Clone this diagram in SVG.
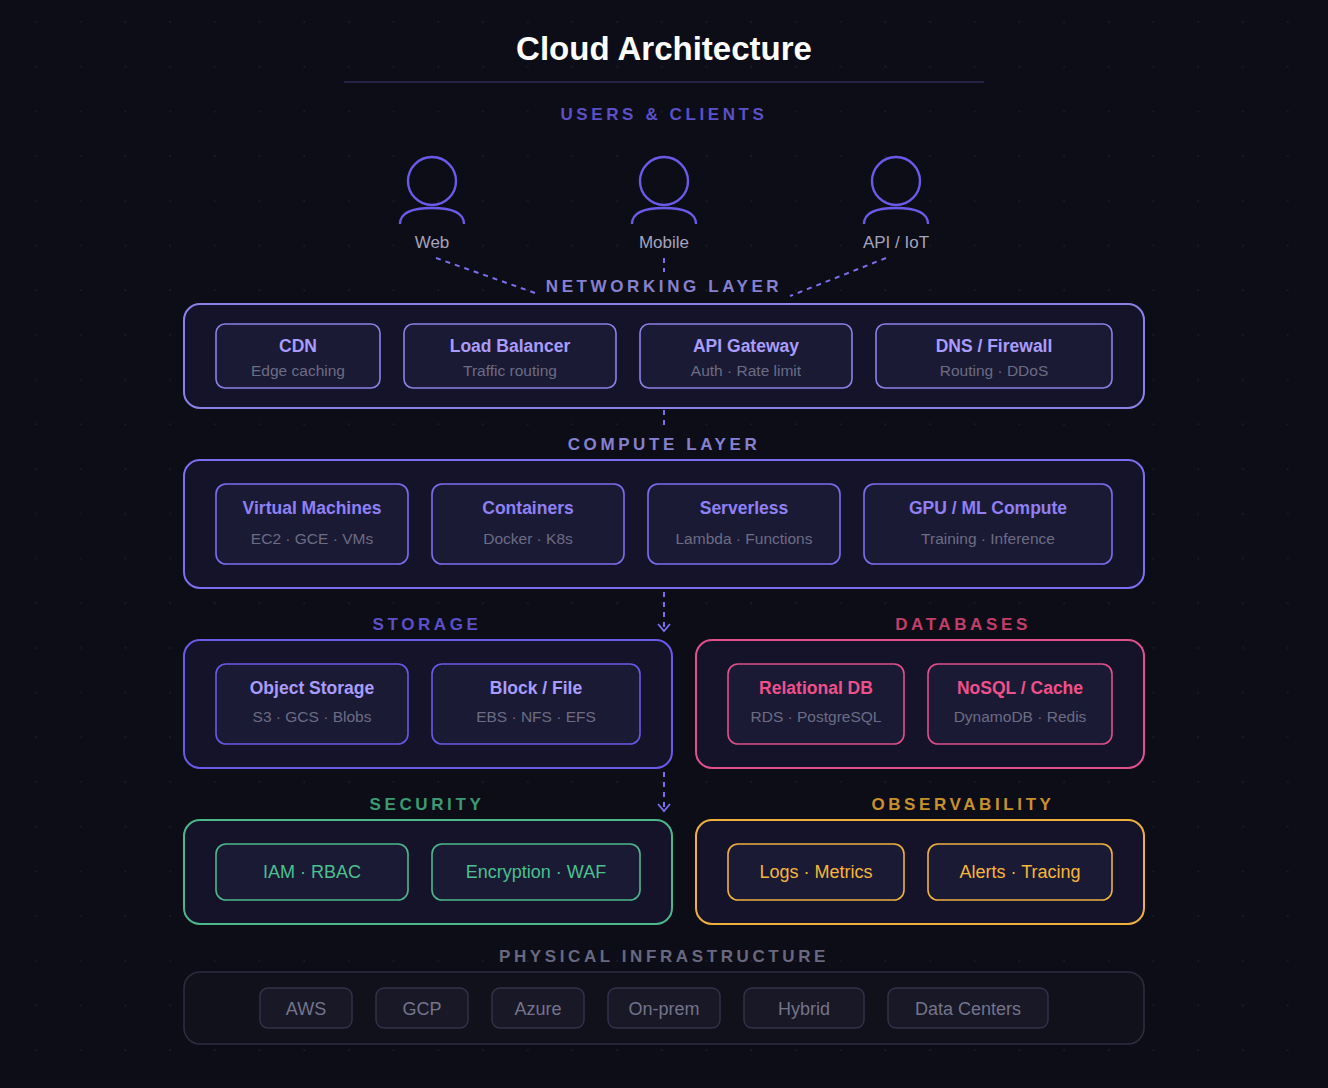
<svg xmlns="http://www.w3.org/2000/svg" width="1328" height="1088" viewBox="0 0 1328 1088">
<defs>
<pattern id="dots" x="0" y="0" width="44.7" height="44.7" patternUnits="userSpaceOnUse"><circle cx="36" cy="22" r="1" fill="#1c1c2c"/></pattern>
<style>
text{font-family:"Liberation Sans",Arial,sans-serif;text-anchor:middle}
.sec{font-size:17px;font-weight:bold;letter-spacing:3.6px}
.box{fill:#14132a;stroke-width:2}
.in{fill:#1a1a34;stroke-width:1.6}
.t{font-size:17.5px;font-weight:bold}
.s{font-size:15.5px;fill:#6c6c84}
.conn{stroke:#7b6ff0;stroke-width:2;stroke-dasharray:5 5;fill:none}
.head{stroke:#7b6ff0;stroke-width:1.8;fill:none}
.u circle,.u path{fill:none;stroke:#6a5ae8;stroke-width:2.4}
.ul{font-size:17px;fill:#a4a4bc}
.p{fill:#181826;stroke:#32324a;stroke-width:1.4}
.pt{font-size:18px;fill:#74748c}
</style>
</defs>
<rect width="1328" height="1088" fill="#0d0d17"/>
<rect width="1328" height="1088" fill="url(#dots)"/>
<text x="664" y="60" font-size="33" font-weight="bold" fill="#ffffff">Cloud Architecture</text>
<line x1="344" y1="82" x2="984" y2="82" stroke="#2c2a58" stroke-width="1.5"/>
<text x="664" y="120" class="sec" fill="#5b50c8">USERS &amp; CLIENTS</text>

<g id="user-web" class="u"><circle cx="432" cy="181" r="24"/><path d="M400,224 Q400,208 432,208 Q464,208 464,224"/><text x="432" y="248" class="ul">Web</text></g>
<g id="user-mobile" class="u"><circle cx="664" cy="181" r="24"/><path d="M632,224 Q632,208 664,208 Q696,208 696,224"/><text x="664" y="248" class="ul">Mobile</text></g>
<g id="user-api" class="u"><circle cx="896" cy="181" r="24"/><path d="M864,224 Q864,208 896,208 Q928,208 928,224"/><text x="896" y="248" class="ul">API / IoT</text></g>

<g id="connectors">
<path class="conn" d="M436,258 L538,294"/>
<path class="conn" d="M664,258 L664,272"/>
<path class="conn" d="M886,258 L790,296"/>
<path class="conn" d="M664,410 L664,428"/>
<path class="conn" d="M664,592 L664,628"/>
<path class="head" d="M658,624 L664,631 L670,624"/>
<path class="conn" d="M664,772 L664,808"/>
<path class="head" d="M658,804 L664,811 L670,804"/>
</g>

<text x="664" y="292" class="sec" fill="#8680d0">NETWORKING LAYER</text>
<g id="networking">
<rect x="184" y="304" width="960" height="104" rx="16" class="box" stroke="#8b82e8"/>
<g id="cdn"><rect x="216" y="324" width="164" height="64" rx="9" class="in" stroke="#8b82e8"/><text x="298" y="352" class="t" fill="#a99cff">CDN</text><text x="298" y="376" class="s">Edge caching</text></g>
<g id="lb"><rect x="404" y="324" width="212" height="64" rx="9" class="in" stroke="#8b82e8"/><text x="510" y="352" class="t" fill="#a99cff">Load Balancer</text><text x="510" y="376" class="s">Traffic routing</text></g>
<g id="apigw"><rect x="640" y="324" width="212" height="64" rx="9" class="in" stroke="#8b82e8"/><text x="746" y="352" class="t" fill="#a99cff">API Gateway</text><text x="746" y="376" class="s">Auth · Rate limit</text></g>
<g id="dns"><rect x="876" y="324" width="236" height="64" rx="9" class="in" stroke="#8b82e8"/><text x="994" y="352" class="t" fill="#a99cff">DNS / Firewall</text><text x="994" y="376" class="s">Routing · DDoS</text></g>
</g>

<text x="664" y="450" class="sec" fill="#8680d0">COMPUTE LAYER</text>
<g id="compute">
<rect x="184" y="460" width="960" height="128" rx="16" class="box" stroke="#7b6ff0"/>
<g id="vm"><rect x="216" y="484" width="192" height="80" rx="10" class="in" stroke="#7b6ff0"/><text x="312" y="514" class="t" fill="#8f80f4">Virtual Machines</text><text x="312" y="544" class="s">EC2 · GCE · VMs</text></g>
<g id="containers"><rect x="432" y="484" width="192" height="80" rx="10" class="in" stroke="#7b6ff0"/><text x="528" y="514" class="t" fill="#8f80f4">Containers</text><text x="528" y="544" class="s">Docker · K8s</text></g>
<g id="serverless"><rect x="648" y="484" width="192" height="80" rx="10" class="in" stroke="#7b6ff0"/><text x="744" y="514" class="t" fill="#8f80f4">Serverless</text><text x="744" y="544" class="s">Lambda · Functions</text></g>
<g id="gpu"><rect x="864" y="484" width="248" height="80" rx="10" class="in" stroke="#7b6ff0"/><text x="988" y="514" class="t" fill="#8f80f4">GPU / ML Compute</text><text x="988" y="544" class="s">Training · Inference</text></g>
</g>

<text x="427" y="630" class="sec" fill="#5b50c8">STORAGE</text>
<text x="963" y="630" class="sec" fill="#c23e6a">DATABASES</text>
<g id="storage">
<rect x="184" y="640" width="488" height="128" rx="16" class="box" stroke="#6a5ae8"/>
<g id="object"><rect x="216" y="664" width="192" height="80" rx="10" class="in" stroke="#6a5ae8"/><text x="312" y="694" class="t" fill="#a99cff">Object Storage</text><text x="312" y="722" class="s">S3 · GCS · Blobs</text></g>
<g id="block"><rect x="432" y="664" width="208" height="80" rx="10" class="in" stroke="#6a5ae8"/><text x="536" y="694" class="t" fill="#a99cff">Block / File</text><text x="536" y="722" class="s">EBS · NFS · EFS</text></g>
</g>
<g id="databases">
<rect x="696" y="640" width="448" height="128" rx="16" class="box" stroke="#e0508a"/>
<g id="relational"><rect x="728" y="664" width="176" height="80" rx="10" class="in" stroke="#e0508a"/><text x="816" y="694" class="t" fill="#f0508a">Relational DB</text><text x="816" y="722" class="s">RDS · PostgreSQL</text></g>
<g id="nosql"><rect x="928" y="664" width="184" height="80" rx="10" class="in" stroke="#e0508a"/><text x="1020" y="694" class="t" fill="#f0508a">NoSQL / Cache</text><text x="1020" y="722" class="s">DynamoDB · Redis</text></g>
</g>

<text x="427" y="810" class="sec" fill="#3c9a72">SECURITY</text>
<text x="963" y="810" class="sec" fill="#c8902c">OBSERVABILITY</text>
<g id="security">
<rect x="184" y="820" width="488" height="104" rx="16" class="box" stroke="#4cb88a"/>
<g id="iam"><rect x="216" y="844" width="192" height="56" rx="10" class="in" stroke="#4cb88a"/><text x="312" y="878" font-size="18" fill="#4cc090">IAM · RBAC</text></g>
<g id="enc"><rect x="432" y="844" width="208" height="56" rx="10" class="in" stroke="#4cb88a"/><text x="536" y="878" font-size="18" fill="#4cc090">Encryption · WAF</text></g>
</g>
<g id="observability">
<rect x="696" y="820" width="448" height="104" rx="16" class="box" stroke="#f0b040"/>
<g id="logs"><rect x="728" y="844" width="176" height="56" rx="10" class="in" stroke="#f0b040"/><text x="816" y="878" font-size="18" fill="#f6b63c">Logs · Metrics</text></g>
<g id="alerts"><rect x="928" y="844" width="184" height="56" rx="10" class="in" stroke="#f0b040"/><text x="1020" y="878" font-size="18" fill="#f6b63c">Alerts · Tracing</text></g>
</g>

<text x="664" y="962" class="sec" fill="#686880">PHYSICAL INFRASTRUCTURE</text>
<g id="physical">
<rect x="184" y="972" width="960" height="72" rx="16" fill="#11111c" stroke="#2c2c40" stroke-width="1.6"/>
<g id="aws"><rect x="260" y="988" width="92" height="40" rx="8" class="p"/><text x="306" y="1015" class="pt">AWS</text></g>
<g id="gcp"><rect x="376" y="988" width="92" height="40" rx="8" class="p"/><text x="422" y="1015" class="pt">GCP</text></g>
<g id="azure"><rect x="492" y="988" width="92" height="40" rx="8" class="p"/><text x="538" y="1015" class="pt">Azure</text></g>
<g id="onprem"><rect x="608" y="988" width="112" height="40" rx="8" class="p"/><text x="664" y="1015" class="pt">On-prem</text></g>
<g id="hybrid"><rect x="744" y="988" width="120" height="40" rx="8" class="p"/><text x="804" y="1015" class="pt">Hybrid</text></g>
<g id="dc"><rect x="888" y="988" width="160" height="40" rx="8" class="p"/><text x="968" y="1015" class="pt">Data Centers</text></g>
</g>
</svg>
